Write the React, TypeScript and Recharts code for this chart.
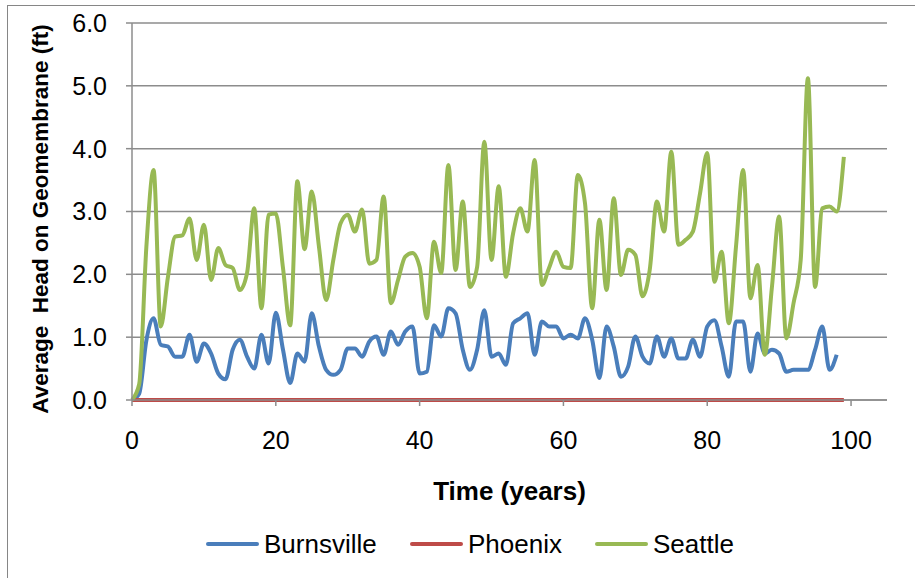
import React from 'react'
import { LineChart, Line, XAxis, YAxis, CartesianGrid } from 'recharts'

// Average head on geomembrane, yearly values
const years = [
  0, 1, 2, 3, 4, 5, 6, 7, 8, 9, 10, 11, 12, 13, 14, 15, 16, 17, 18, 19,
  20, 21, 22, 23, 24, 25, 26, 27, 28, 29, 30, 31, 32, 33, 34, 35, 36, 37, 38, 39,
  40, 41, 42, 43, 44, 45, 46, 47, 48, 49, 50, 51, 52, 53, 54, 55, 56, 57, 58, 59,
  60, 61, 62, 63, 64, 65, 66, 67, 68, 69, 70, 71, 72, 73, 74, 75, 76, 77, 78, 79,
  80, 81, 82, 83, 84, 85, 86, 87, 88, 89, 90, 91, 92, 93, 94, 95, 96, 97, 98, 99,
]

const burnsville = [
  0, 0.1, 0.95, 1.3, 0.88, 0.85, 0.69, 0.69, 1.04, 0.61,
  0.9, 0.74, 0.42, 0.33, 0.8, 0.96, 0.69, 0.5, 1.04, 0.58,
  1.39, 0.8, 0.27, 0.74, 0.61, 1.38, 0.85, 0.48, 0.4, 0.48,
  0.82, 0.82, 0.69, 0.93, 1.01, 0.72, 1.09, 0.88, 1.09, 1.17,
  0.42, 0.45, 1.19, 1.01, 1.46, 1.38, 0.8, 0.48, 0.8, 1.43,
  0.69, 0.74, 0.56, 1.22, 1.3, 1.38, 0.72, 1.25, 1.17, 1.17,
  0.98, 1.04, 0.98, 1.3, 0.96, 0.35, 1.17, 0.85, 0.37, 0.53,
  1.01, 0.69, 0.58, 1.01, 0.69, 0.98, 0.66, 0.66, 0.96, 0.69,
  1.17, 1.27, 0.85, 0.37, 1.25, 1.25, 0.45, 1.06, 0.74, 0.8,
  0.74, 0.45, 0.48, 0.48, 0.48, 0.8, 1.17, 0.48, 0.72,
]

const phoenix = [
  0, 0, 0, 0, 0, 0, 0, 0, 0, 0, 0, 0, 0, 0, 0, 0, 0, 0, 0, 0,
  0, 0, 0, 0, 0, 0, 0, 0, 0, 0, 0, 0, 0, 0, 0, 0, 0, 0, 0, 0,
  0, 0, 0, 0, 0, 0, 0, 0, 0, 0, 0, 0, 0, 0, 0, 0, 0, 0, 0, 0,
  0, 0, 0, 0, 0, 0, 0, 0, 0, 0, 0, 0, 0, 0, 0, 0, 0, 0, 0, 0,
  0, 0, 0, 0, 0, 0, 0, 0, 0, 0, 0, 0, 0, 0, 0, 0, 0, 0, 0, 0,
]

const seattle = [
  0, 0.25, 2.44, 3.66, 1.17, 1.96, 2.6, 2.62, 2.89, 2.23,
  2.79, 1.91, 2.42, 2.15, 2.1, 1.75, 2.02, 3.05, 1.46, 2.95,
  2.97, 2.1, 1.19, 3.48, 2.4, 3.32, 2.44, 1.59, 2.23, 2.81,
  2.95, 2.68, 3.03, 2.17, 2.23, 3.24, 1.54, 1.91, 2.28, 2.34,
  2.12, 1.3, 2.52, 2.02, 3.74, 2.07, 3.16, 1.8, 2.12, 4.11,
  2.23, 3.4, 1.96, 2.65, 3.05, 2.68, 3.82, 1.83, 2.1, 2.36,
  2.12, 2.1, 3.58, 3.13, 1.46, 2.87, 1.75, 3.21, 1.99, 2.39,
  2.31, 1.65, 2.07, 3.16, 2.68, 3.95, 2.47, 2.55, 2.68, 3.29,
  3.93, 1.88, 2.36, 1.22, 2.44, 3.66, 1.62, 2.15, 0.72, 1.8,
  2.92, 0.98, 1.54, 2.23, 5.12, 1.8, 3.05, 3.08, 3.0, 3.87,
]

const xTicks = [0, 20, 40, 60, 80, 100]
const yTicks = [0, 1, 2, 3, 4, 5, 6]

const series = [
  { key: 'burnsville', name: 'Burnsville', color: '#4A7EBB' },
  { key: 'phoenix', name: 'Phoenix', color: '#BE4B48' },
  { key: 'seattle', name: 'Seattle', color: '#98B954' },
]

const data = years.map((year, i) => ({
  year,
  burnsville: burnsville[i],
  phoenix: phoenix[i],
  seattle: seattle[i],
}))

const FONT = '"Liberation Sans", Arial, sans-serif'
const GRID = '#8c8c8c'

// legend drawn under the plot like Excel's
const legendPos = [206, 410, 595]

export default function App() {
  return (
    <div
      style={{
        position: 'absolute',
        left: 0,
        top: 0,
        width: 915,
        height: 578,
        background: '#fff',
        overflow: 'hidden',
        fontFamily: FONT,
      }}
    >
      <div
        style={{
          position: 'absolute',
          left: 7,
          top: 5,
          width: 1000,
          height: 1000,
          border: '1px solid #868686',
        }}
      />
      <div style={{ position: 'absolute', left: 0, top: 0 }}>
        <LineChart
          width={915}
          height={578}
          data={data}
          margin={{ top: 23, right: 28, left: 0, bottom: 148 }}
        >
          <CartesianGrid
            vertical={false}
            stroke={GRID}
            strokeWidth={1.5}
          />
          <XAxis
            dataKey="year"
            type="number"
            domain={[0, 105]}
            ticks={xTicks}
            height={30}
            stroke={GRID}
            strokeWidth={1.5}
            tickSize={6}
            tickMargin={25}
            tick={{ fill: '#000', fontSize: 25, fontFamily: FONT }}
            label={{
              content: ({ viewBox }: any) => (
                <text
                  x={viewBox.x + viewBox.width / 2}
                  y={500}
                  textAnchor="middle"
                  fontSize={26}
                  fontWeight="bold"
                  fontFamily={FONT}
                  fill="#000"
                >
                  Time (years)
                </text>
              ),
            }}
          />
          <YAxis
            type="number"
            domain={[0, 6]}
            ticks={yTicks}
            width={132}
            stroke={GRID}
            strokeWidth={1.5}
            tickSize={6}
            tickMargin={19}
            tickFormatter={(v: number) => v.toFixed(1)}
            tick={{ fill: '#000', fontSize: 25, fontFamily: FONT }}
            label={{
              content: () => (
                <text
                  x={48}
                  y={219}
                  transform="rotate(-90 48 219)"
                  textAnchor="middle"
                  fontSize={22.5}
                  fontWeight="bold"
                  fontFamily={FONT}
                  fill="#000"
                  style={{ whiteSpace: 'pre' }}
                >
                  {'Average  Head on Geomembrane (ft)'}
                </text>
              ),
            }}
          />
          {series.map((s) => (
            <Line
              key={s.key}
              type="monotone"
              dataKey={s.key}
              name={s.name}
              stroke={s.color}
              strokeWidth={4}
              dot={false}
              isAnimationActive={false}
            />
          ))}
        </LineChart>
      </div>
      {series.map((s, i) => (
        <div
          key={s.key}
          style={{
            position: 'absolute',
            left: legendPos[i],
            top: 529,
            height: 30,
            display: 'flex',
            alignItems: 'center',
            fontSize: 26,
            color: '#000',
            whiteSpace: 'nowrap',
          }}
        >
          <div
            style={{
              width: 53,
              height: 4,
              borderRadius: 2,
              background: s.color,
              marginRight: 5,
            }}
          />
          <span>{s.name}</span>
        </div>
      ))}
    </div>
  )
}
